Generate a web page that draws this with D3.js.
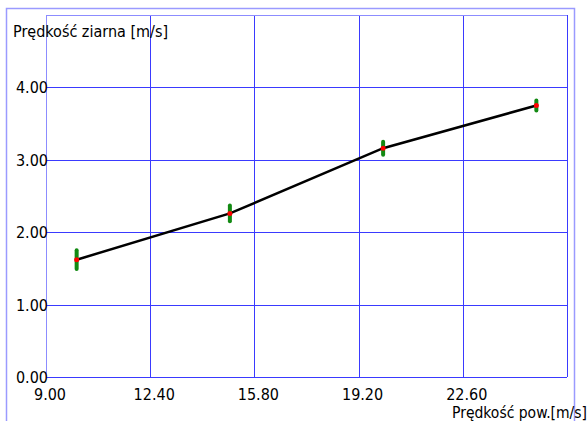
<!DOCTYPE html>
<html><head><meta charset="utf-8">
<script src="https://cdn.jsdelivr.net/npm/d3@7"></script>
<style>body{margin:0;background:#fff}svg{display:block}text{font-family:"DejaVu Sans Condensed","DejaVu Sans",sans-serif;font-stretch:condensed;fill:#000}</style>
</head><body>
<script>
const xTicks = [9.0, 12.4, 15.8, 19.2, 22.6];
const yTicks = [0, 1, 2, 3, 4];
const xValues = [10, 15, 20, 25];
const yValues = [1.62, 2.26, 3.16, 3.75];
const yErrors = [0.13, 0.11, 0.09, 0.07];
const xTitle = "Prędkość pow.[m/s]";
const yTitle = "Prędkość ziarna [m/s]";

const W = 588, H = 421;
const L = 46, R = 567, T = 15, B = 377;
const FS = 16;
const svg = d3.select("body").append("svg").attr("width", W).attr("height", H);
const x = d3.scaleLinear().domain([9, 26]).range([L, R]);
const y = d3.scaleLinear().domain([0, 5]).range([B, T]);

// outer frame
svg.append("path").attr("d", `M6.5,${H} V8.5 H574.5 V${H}`).attr("fill", "none")
  .attr("stroke", "#9a9aff").attr("stroke-width", 1.5);

const grid = "#3a3aff";
svg.append("g").selectAll("line").data(xTicks.concat([26])).join("line")
  .attr("x1", d => Math.round(x(d)) + 0.5).attr("x2", d => Math.round(x(d)) + 0.5)
  .attr("y1", T).attr("y2", B).attr("stroke", (d,i)=> i===0 ? "#8c8cff" : grid);
svg.append("g").selectAll("line").data(yTicks.concat([5])).join("line")
  .attr("y1", d => Math.round(y(d)) + 0.5).attr("y2", d => Math.round(y(d)) + 0.5)
  .attr("x1", L).attr("x2", R).attr("stroke", (d,i)=> i===5 ? "#8c8cff" : grid);

svg.append("g").selectAll("text").data(yTicks).join("text")
  .attr("x", L + 2).attr("y", d => y(d) + 6).attr("text-anchor", "end")
  .attr("font-size", FS).text(d => d3.format(".2f")(d));
svg.append("g").selectAll("text").data(xTicks).join("text")
  .attr("x", d => x(d) + 4).attr("y", 399.5).attr("text-anchor", "middle")
  .attr("font-size", FS).text(d => d3.format(".2f")(d));

svg.append("text").attr("x", 13).attr("y", 36.5).attr("font-size", FS).text(yTitle);
svg.append("text").attr("x", 587).attr("y", 418).attr("text-anchor", "end").attr("font-size", 15.5).text(xTitle);

const pts = xValues.map((v, i) => [v, yValues[i], yErrors[i]]);
svg.append("path").datum(pts)
  .attr("d", d3.line().x(d => x(d[0])).y(d => y(d[1])))
  .attr("fill", "none").attr("stroke", "#000").attr("stroke-width", 2.5);

svg.append("g").selectAll("line").data(pts).join("line")
  .attr("x1", d => x(d[0])).attr("x2", d => x(d[0]))
  .attr("y1", d => y(d[1] - d[2])).attr("y2", d => y(d[1] + d[2]))
  .attr("stroke", "#138a13").attr("stroke-width", 4).attr("stroke-linecap", "round");
svg.append("g").selectAll("circle").data(pts).join("circle")
  .attr("cx", d => x(d[0])).attr("cy", d => y(d[1])).attr("r", 2.5).attr("fill", "#ff0000");
</script>
</body></html>
